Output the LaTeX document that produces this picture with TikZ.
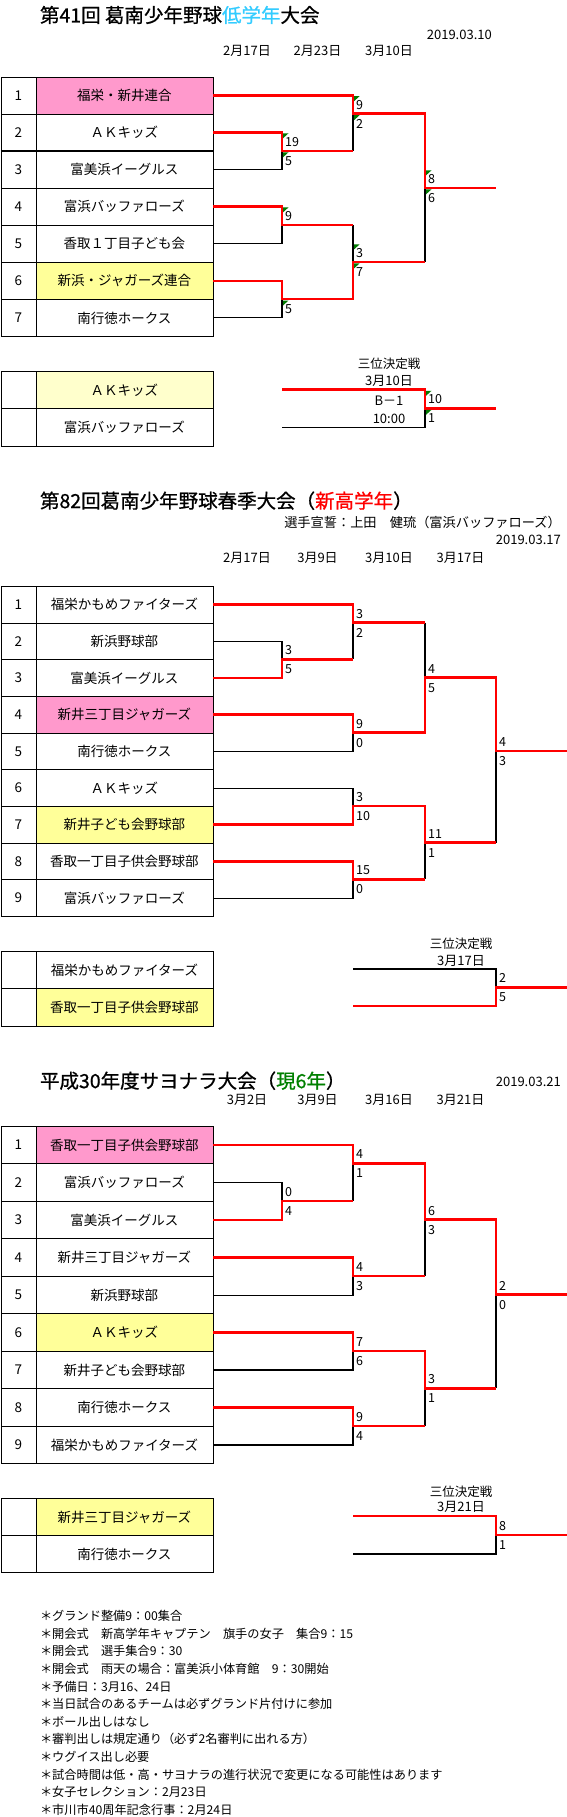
\documentclass[tikz,border=0pt]{standalone}
\usepackage{fontspec}
\setmainfont{Noto Sans CJK JP}
\newfontfamily\headfont[FakeBold=0.8]{Noto Sans CJK JP}
\definecolor{cellpink}{HTML}{FF99CC}
\definecolor{cellyellow}{HTML}{FFFF99}
\definecolor{cellpale}{HTML}{FFFFCC}
\definecolor{titlecyan}{HTML}{33CCFF}
\definecolor{titlegreen}{HTML}{008000}
\definecolor{flaggreen}{HTML}{007A00}

\begin{document}
\begin{tikzpicture}[x=1pt,y=-1pt,
    numcell/.style={draw, line width=0.8pt, anchor=north west, inner sep=0pt,
      minimum width=35pt, minimum height=\rh pt, font=\fontsize{13.5}{16}\selectfont},
    teamcell/.style={numcell, minimum width=177pt},
    win/.style={red, line width=2.6pt},
    lose/.style={black, line width=1.1pt},
    score/.style={anchor=west, inner sep=0.5pt, xshift=2.5pt, font=\fontsize{12.5}{14}\selectfont},
    hi/.style={score, yshift=9pt},
    lo/.style={score, yshift=-10pt},
    flag/.style={fill=flaggreen},
    headline/.style={anchor=west, inner sep=0pt, font=\headfont\fontsize{19.5}{24}\selectfont},
    lbl/.style={inner sep=0pt, font=\fontsize{12.5}{15}\selectfont},
    day/.style={lbl, font=\fontsize{13}{15}\selectfont},
    note/.style={anchor=west, inner sep=0pt, font=\fontsize{12.2}{15}\selectfont}]
  \fill[white] (0,0) rectangle (567,1817);
  \useasboundingbox (0,0) rectangle (567,1817);

  % ---------------- low grades
  \node[headline] (At) at (39.8,15) {第41回 葛南少年野球\textcolor{titlecyan}{低学年}大会};
  \node[day, anchor=east] (Ad) at (492,35) {2019.03.10};
  \foreach \d/\x [count=\k] in {2月17日/247, 2月23日/317.5, 3月10日/389}
    \node[day] (Ah\k) at (\x,51) {\d};

  \def\rh{37.05}
  \foreach \t/\col [count=\i] in {福栄・新井連合/cellpink, ＡＫキッズ/white, 富美浜イーグルス/white,
      富浜バッファローズ/white, 香取１丁目子ども会/white, 新浜・ジャガーズ連合/cellyellow, 南行徳ホークス/white} {
    \node[numcell] (nA\i) at (0.5,{76.7+(\i-1)*\rh}) {\i};
    \node[teamcell, fill=\col] (A\i) at (35.5,{76.7+(\i-1)*\rh}) {\t};
  }
  \draw[line width=1.6pt] (nA3.north west) -- (A3.north east);
  \def\rh{37.3}
  \foreach \t/\col [count=\i from 8] in {ＡＫキッズ/cellpale, 富浜バッファローズ/white} {
    \node[numcell] (nA\i) at (0.5,{371+(\i-8)*\rh}) {};
    \node[teamcell, fill=\col] (A\i) at (35.5,{371+(\i-8)*\rh}) {\t};
  }

  \coordinate (Am23) at (282,150.8);
  \coordinate (Am45) at (282,224.9);
  \coordinate (Am67) at (282,299);
  \coordinate (Am123) at (353,113.75);
  \coordinate (Am4567) at (353,261.95);
  \coordinate (Afin) at (425,187.85);
  \coordinate (Aout) at (496,187.85);
  \coordinate (A3a) at (282,389.3);
  \coordinate (A3b) at (282,427.3);
  \coordinate (A3m) at (425,408.3);
  \coordinate (A3out) at (496,408.3);

  \draw[lose] (A3.east) -| (Am23);
  \draw[lose] (A5.east) -| (Am45);
  \draw[lose] (A7.east) -| (Am67);
  \draw[lose] (Am23 -| Am123) -- (Am123);
  \draw[lose] (Am45 -| Am4567) -- (Am4567);
  \draw[lose] (Am4567 -| Afin) -- (Afin);
  \draw[lose] (A3b) -| (A3m);
  \draw[win] (A1.east) -| (Am123) -| (Afin) -- (Aout);
  \draw[win] (A2.east) -| (Am23) -- (Am23 -| Am123);
  \draw[win] (A4.east) -| (Am45) -- (Am45 -| Am4567);
  \draw[win] (A6.east) -| (Am67) -| (Am4567) -- (Am4567 -| Afin);
  \draw[win] (A3a) -| (A3m) -- (A3out);

  \foreach \p in {Am23, Am45, Am123, Am4567, Afin, A3m}
    \fill[flag] (\p) ++(1,-17.5) -- ++(5.5,0) -- ++(-5.5,5) -- cycle;
  \foreach \p in {Am23, Am67, Am123, Am4567, Afin, A3m}
    \fill[flag] (\p) ++(1,1.5) -- ++(5.5,0) -- ++(-5.5,5) -- cycle;
  \foreach \p/\u/\l in {Am23/19/5, Am123/9/2, Am4567/3/7, Afin/8/6, A3m/10/1} {
    \node[hi] (\p-u) at (\p) {\u};
    \node[lo] (\p-l) at (\p) {\l};
  }
  \node[hi] (Am45-u) at (Am45) {9};
  \node[lo] (Am67-l) at (Am67) {5};

  \node[lbl] (A3t) at (389,364) {三位決定戦};
  \node[day] (A3d) at (389,380.7) {3月10日};
  \node[day] (A3g) at (389,400.7) {B－1};
  \node[day] (A3h) at (389,419.3) {10:00};

  % ---------------- spring
  \node[headline] (Bt) at (39.8,500.7) {第82回葛南少年野球春季大会（\textcolor{red}{新高学年}）};
  \node[lbl, anchor=east, font=\fontsize{13.2}{15}\selectfont] (Boath) at (561,522.7) {選手宣誓：上田　健琉（富浜バッファローズ）};
  \node[day, anchor=east] (Bd) at (561,540) {2019.03.17};
  \foreach \d/\x [count=\k] in {2月17日/247, 3月9日/317.5, 3月10日/389, 3月17日/460.5}
    \node[day] (Bh\k) at (\x,558.3) {\d};

  \def\rh{36.67}
  \foreach \t/\col [count=\i] in {福栄かもめファイターズ/white, 新浜野球部/white, 富美浜イーグルス/white,
      新井三丁目ジャガーズ/cellpink, 南行徳ホークス/white, ＡＫキッズ/white, 新井子ども会野球部/cellyellow,
      香取一丁目子供会野球部/white, 富浜バッファローズ/white} {
    \node[numcell] (nB\i) at (0.5,{586+(\i-1)*\rh}) {\i};
    \node[teamcell, fill=\col] (B\i) at (35.5,{586+(\i-1)*\rh}) {\t};
  }
  \def\rh{37.5}
  \foreach \t/\col [count=\i from 10] in {福栄かもめファイターズ/white, 香取一丁目子供会野球部/cellyellow} {
    \node[numcell] (nB\i) at (0.5,{950.7+(\i-10)*\rh}) {};
    \node[teamcell, fill=\col] (B\i) at (35.5,{950.7+(\i-10)*\rh}) {\t};
  }

  \coordinate (Bm23) at (282,659.3);
  \coordinate (Bm123) at (353,622.7);
  \coordinate (Bm45) at (353,732.7);
  \coordinate (Bm67) at (353,806);
  \coordinate (Bm89) at (353,879.3);
  \coordinate (Bs1) at (425,677.7);
  \coordinate (Bs2) at (425,842.7);
  \coordinate (Bfin) at (496,751);
  \coordinate (Bout) at (567,751);
  \coordinate (B3a) at (353,969);
  \coordinate (B3b) at (353,1006);
  \coordinate (B3m) at (496,987.3);
  \coordinate (B3out) at (567,987.3);

  \draw[lose] (B2.east) -| (Bm23);
  \draw[lose] (Bm23 -| Bm123) -- (Bm123);
  \draw[lose] (Bm123 -| Bs1) -- (Bs1);
  \draw[lose] (B5.east) -| (Bm45);
  \draw[lose] (B6.east) -| (Bm67);
  \draw[lose] (B9.east) -| (Bm89);
  \draw[lose] (Bm89 -| Bs2) -- (Bs2);
  \draw[lose] (Bs2 -| Bfin) -- (Bfin);
  \draw[lose] (B3a) -| (B3m);
  \draw[win] (B1.east) -| (Bm123) -- (Bm123 -| Bs1);
  \draw[win] (B3.east) -| (Bm23) -- (Bm23 -| Bm123);
  \draw[win] (B4.east) -| (Bm45) -| (Bs1) -| (Bfin) -- (Bout);
  \draw[win] (B7.east) -| (Bm67) -| (Bs2) -- (Bs2 -| Bfin);
  \draw[win] (B8.east) -| (Bm89) -- (Bm89 -| Bs2);
  \draw[win] (B3b) -| (B3m) -- (B3out);

  \foreach \p/\u/\l in {Bm23/3/5, Bm123/3/2, Bm45/9/0, Bm67/3/10, Bm89/15/0,
      Bs1/4/5, Bs2/11/1, Bfin/4/3, B3m/2/5} {
    \node[hi] (\p-u) at (\p) {\u};
    \node[lo] (\p-l) at (\p) {\l};
  }
  \node[lbl] (B3t) at (461,943.3) {三位決定戦};
  \node[day] (B3d) at (461,961) {3月17日};

  % ---------------- sayonara
  \node[headline] (Ct) at (39.8,1080.7) {平成30年度サヨナラ大会（\textcolor{titlegreen}{現6年}）};
  \node[day, anchor=east] (Cd) at (561,1082.3) {2019.03.21};
  \foreach \d/\x [count=\k] in {3月2日/247, 3月9日/317.5, 3月16日/389, 3月21日/460.5}
    \node[day] (Ch\k) at (\x,1100) {\d};

  \def\rh{37.48}
  \foreach \t/\col [count=\i] in {香取一丁目子供会野球部/cellpink, 富浜バッファローズ/white, 富美浜イーグルス/white,
      新井三丁目ジャガーズ/white, 新浜野球部/white, ＡＫキッズ/cellyellow, 新井子ども会野球部/white,
      南行徳ホークス/white, 福栄かもめファイターズ/white} {
    \node[numcell] (nC\i) at (0.5,{1126+(\i-1)*\rh}) {\i};
    \node[teamcell, fill=\col] (C\i) at (35.5,{1126+(\i-1)*\rh}) {\t};
  }
  \def\rh{37}
  \foreach \t/\col [count=\i from 10] in {新井三丁目ジャガーズ/cellyellow, 南行徳ホークス/white} {
    \node[numcell] (nC\i) at (0.5,{1498.3+(\i-10)*\rh}) {};
    \node[teamcell, fill=\col] (C\i) at (35.5,{1498.3+(\i-10)*\rh}) {\t};
  }

  \coordinate (Cm23) at (282,1201);
  \coordinate (Cm123) at (353,1163.5);
  \coordinate (Cm45) at (353,1275.9);
  \coordinate (Cm67) at (353,1350.9);
  \coordinate (Cm89) at (353,1425.8);
  \coordinate (Cs1) at (425,1219.7);
  \coordinate (Cs2) at (425,1388.4);
  \coordinate (Cfin) at (496,1294.7);
  \coordinate (Cout) at (567,1294.7);
  \coordinate (C3a) at (353,1516);
  \coordinate (C3b) at (353,1554);
  \coordinate (C3m) at (496,1535);
  \coordinate (C3out) at (567,1535);

  \draw[lose] (C2.east) -| (Cm23);
  \draw[lose] (Cm23 -| Cm123) -- (Cm123);
  \draw[lose] (C5.east) -| (Cm45);
  \draw[lose] (Cm45 -| Cs1) -- (Cs1);
  \draw[lose] (C7.east) -| (Cm67);
  \draw[lose] (C9.east) -| (Cm89);
  \draw[lose] (Cm89 -| Cs2) -- (Cs2);
  \draw[lose] (Cs2 -| Cfin) -- (Cfin);
  \draw[lose] (C3b) -| (C3m);
  \draw[win] (C1.east) -| (Cm123) -| (Cs1) -| (Cfin) -- (Cout);
  \draw[win] (C3.east) -| (Cm23) -- (Cm23 -| Cm123);
  \draw[win] (C4.east) -| (Cm45) -- (Cm45 -| Cs1);
  \draw[win] (C6.east) -| (Cm67) -| (Cs2) -- (Cs2 -| Cfin);
  \draw[win] (C8.east) -| (Cm89) -- (Cm89 -| Cs2);
  \draw[win] (C3a) -| (C3m) -- (C3out);

  \foreach \p/\u/\l in {Cm23/0/4, Cm123/4/1, Cm45/4/3, Cm67/7/6, Cm89/9/4,
      Cs1/6/3, Cs2/3/1, Cfin/2/0, C3m/8/1} {
    \node[hi] (\p-u) at (\p) {\u};
    \node[lo] (\p-l) at (\p) {\l};
  }
  \node[lbl] (C3t) at (461,1491.7) {三位決定戦};
  \node[day] (C3d) at (461,1507.3) {3月21日};

  % ---------------- notes
  \foreach \t [count=\k] in {＊グランド整備9：00集合,
      ＊開会式　新高学年キャプテン　旗手の女子　集合9：15,
      ＊開会式　選手集合9：30,
      ＊開会式　雨天の場合：富美浜小体育館　9：30開始,
      ＊予備日：3月16、24日,
      ＊当日試合のあるチームは必ずグランド片付けに参加,
      ＊ボール出しはなし,
      ＊審判出しは規定通り（必ず2名審判に出れる方）,
      ＊ウグイス出し必要,
      ＊試合時間は低・高・サヨナラの進行状況で変更になる可能性はあります,
      ＊女子セレクション：2月23日,
      ＊市川市40周年記念行事：2月24日}
    \node[note] (note\k) at (39.8,{1616+(\k-1)*17.6}) {\t};
\end{tikzpicture}
\end{document}
